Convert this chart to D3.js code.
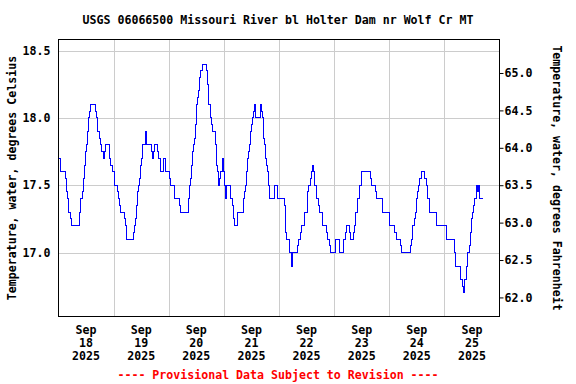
<!DOCTYPE html>
<html>
<head>
<meta charset="utf-8">
<script src="https://cdnjs.cloudflare.com/ajax/libs/d3/7.8.5/d3.min.js"></script>
<style>
    body { margin: 0; background: #fff; }
    svg text { font-family: "DejaVu Sans Mono", monospace; font-weight: bold; font-size: 11.6px; fill: #000; }
</style>
</head>
<body>
<svg id="chart" width="576" height="384"></svg>
<script>
// step changes: hours since 2025-09-18 00:00 and water temperature (deg C)
var hours = [0, 1.0, 3.05, 3.5, 3.8, 4.2, 5.35, 5.8, 9.25, 9.7, 10.3, 10.75, 11.2, 11.6, 12.05, 12.5, 12.9, 13.35, 13.8,
    16.0, 16.4, 16.85, 17.7, 18.15, 18.85, 19.45, 20.15, 20.6, 22.35, 22.75, 23.4, 24.5, 25.55, 26.0, 26.4, 26.85,
    28.75, 29.05, 29.75, 32.8, 33.2, 33.65, 34.1, 34.5, 34.95, 35.4, 35.85, 36.25, 36.7, 37.9, 38.45, 40.6, 41.05,
    41.5, 41.9, 42.95, 43.4, 44.3, 45.85, 46.7, 48.35, 48.65, 50.35, 52.7, 53.0, 56.75, 57.15, 57.6, 58.05, 58.45,
    58.9, 59.35, 59.8, 60.2, 60.65, 61.1, 61.5, 61.95, 62.8, 64.55, 65.0, 65.45, 66.3, 66.75, 67.15, 68.5, 68.9,
    69.35, 69.8, 70.2, 70.65, 71.4, 71.7, 72.15, 72.6, 72.85, 73.3, 75.0, 75.65, 76.05, 76.5, 78.05, 80.65, 81.1,
    81.55, 81.95, 82.4, 82.85, 83.3, 83.7, 84.15, 84.6, 85.05, 85.35, 85.75, 87.95, 88.4, 88.8, 89.25, 89.7, 90.1,
    90.55, 91.0, 91.45, 91.85, 93.9, 95.2, 98.25, 98.7, 99.15, 100.45, 101.45, 102.0, 103.9, 104.35, 105.25, 105.8,
    107.1, 108.3, 108.85, 109.7, 110.3, 110.7, 110.95, 111.3, 112.4, 113.3, 113.75, 115.05, 116.55, 117.0, 117.85,
    118.3, 120.75, 122.45, 124.2, 125.1, 125.5, 126.8, 127.25, 128.55, 129.0, 129.45, 130.3, 131.2, 132.05, 136.0,
    136.4, 138.15, 138.6, 141.2, 144.25, 146.4, 147.0, 149.0, 149.45, 153.25, 153.7, 154.25, 155.1, 155.55, 156.0,
    156.45, 156.85, 157.3, 158.2, 159.5, 160.0, 160.8, 161.65, 164.7, 169.05, 172.55, 173.0, 175.15, 176.05, 176.5,
    176.9, 177.8, 178.25, 179.1, 179.55, 180.0, 180.4, 180.85, 181.3, 182.15, 182.6, 183.05, 183.5, 184.9];
var tempC = [17.70, 17.60, 17.55, 17.45, 17.40, 17.30, 17.25, 17.20, 17.30, 17.40, 17.45, 17.55, 17.65, 17.75, 17.80, 17.90, 18.00, 18.05, 18.10,
    18.05, 18.00, 17.90, 17.85, 17.80, 17.75, 17.70, 17.75, 17.80, 17.70, 17.65, 17.60, 17.50, 17.45, 17.40, 17.35, 17.30,
    17.25, 17.20, 17.10, 17.15, 17.20, 17.25, 17.35, 17.45, 17.50, 17.55, 17.65, 17.70, 17.80, 17.90, 17.80, 17.75, 17.70,
    17.75, 17.80, 17.75, 17.70, 17.60, 17.70, 17.60, 17.55, 17.50, 17.40, 17.35, 17.30, 17.40, 17.50, 17.55, 17.65, 17.75,
    17.80, 17.85, 17.95, 18.10, 18.15, 18.20, 18.30, 18.35, 18.40, 18.35, 18.25, 18.10, 18.00, 17.95, 17.90, 17.80, 17.65,
    17.60, 17.50, 17.55, 17.60, 17.70, 17.60, 17.50, 17.45, 17.40, 17.50, 17.40, 17.35, 17.25, 17.20, 17.30, 17.40, 17.45,
    17.50, 17.60, 17.70, 17.75, 17.80, 17.90, 17.95, 18.00, 18.05, 18.10, 18.00, 18.10, 18.05, 18.00, 17.85, 17.80, 17.70,
    17.65, 17.60, 17.50, 17.40, 17.50, 17.40, 17.35, 17.15, 17.10, 17.00, 16.90, 17.00, 17.05, 17.10, 17.15, 17.20,
    17.30, 17.45, 17.50, 17.55, 17.60, 17.65, 17.60, 17.50, 17.40, 17.35, 17.30, 17.20, 17.15, 17.10, 17.05,
    17.00, 17.10, 17.00, 17.10, 17.15, 17.20, 17.15, 17.10, 17.15, 17.20, 17.30, 17.40, 17.50, 17.60, 17.55,
    17.50, 17.45, 17.40, 17.30, 17.20, 17.15, 17.10, 17.05, 17.00, 17.05, 17.10, 17.20, 17.25, 17.30, 17.40,
    17.45, 17.50, 17.55, 17.60, 17.55, 17.50, 17.40, 17.30, 17.20, 17.10, 17.00, 16.90, 16.80, 16.75, 16.70,
    16.80, 16.90, 17.00, 17.05, 17.15, 17.25, 17.30, 17.35, 17.40, 17.50, 17.45, 17.50, 17.40, 17.40];

var dayLabels = ["18", "19", "20", "21", "22", "23", "24", "25"];
var celsiusTicks = [17.0, 17.5, 18.0, 18.5];
var fahrenheitTicks = [62.0, 62.5, 63.0, 63.5, 64.0, 64.5, 65.0];

var svg = d3.select("#chart");
var plotL = 58.5, plotR = 499.5, plotT = 39.5, plotB = 316.5;

var start = Date.UTC(2025, 8, 18);
var hourMs = 3600 * 1000;
var x = d3.scaleUtc()
    .domain([new Date(start), new Date(start + 192 * hourMs)])
    .range([plotL, plotR]);

var cMin = 16.525, cMax = 18.582;
var yC = d3.scaleLinear().domain([cMin, cMax]).range([plotB, plotT]);
var yF = d3.scaleLinear().domain([cMin * 1.8 + 32, cMax * 1.8 + 32]).range([plotB, plotT]);

// grid
var grid = svg.append("g").attr("stroke", "#cccccc").attr("stroke-width", 1);
grid.selectAll(".hg").data(celsiusTicks).enter().append("line")
    .attr("x1", plotL).attr("x2", plotR)
    .attr("y1", function(d) { return Math.round(yC(d)) + 0.5; })
    .attr("y2", function(d) { return Math.round(yC(d)) + 0.5; });
grid.selectAll(".vg").data(d3.range(1, 8)).enter().append("line")
    .attr("y1", plotT).attr("y2", plotB)
    .attr("x1", function(d) { return Math.round(x(new Date(start + d * 24 * hourMs))) + 0.5; })
    .attr("x2", function(d) { return Math.round(x(new Date(start + d * 24 * hourMs))) + 0.5; });

// data line
var pts = hours.map(function(h, i) { return [new Date(start + h * hourMs), tempC[i]]; });
var line = d3.line()
    .x(function(d) { return x(d[0]); })
    .y(function(d) { return yC(d[1]); })
    .curve(d3.curveStepAfter);
svg.append("path")
    .datum(pts)
    .attr("fill", "none")
    .attr("stroke", "#0000ff")
    .attr("stroke-width", 1)
    .attr("shape-rendering", "crispEdges")
    .attr("d", line);

// frame
svg.append("rect")
    .attr("x", plotL).attr("y", plotT)
    .attr("width", plotR - plotL).attr("height", plotB - plotT)
    .attr("fill", "none").attr("stroke", "#000").attr("stroke-width", 1);

// left axis (Celsius)
var axL = svg.append("g")
    .attr("transform", "translate(" + plotL + ",0)")
    .call(d3.axisLeft(yC).tickValues(celsiusTicks).tickSize(0).tickPadding(8).tickFormat(d3.format(".1f")));
axL.select(".domain").remove();

// right axis (Fahrenheit)
var axR = svg.append("g")
    .attr("transform", "translate(" + plotR + ",0)")
    .call(d3.axisRight(yF).tickValues(fahrenheitTicks).tickSize(4).tickPadding(1).tickFormat(d3.format(".1f")));
axR.select(".domain").remove();
axR.selectAll(".tick line").attr("stroke", "#000");

svg.selectAll(".tick text")
    .style("font-family", "'DejaVu Sans Mono', monospace")
    .style("font-weight", "bold")
    .style("font-size", "11.6px")
    .attr("fill", "#000");

// date labels at noon
var dl = svg.append("g").selectAll("text").data(dayLabels).enter().append("text")
    .attr("text-anchor", "middle")
    .attr("transform", function(d, i) {
        return "translate(" + x(new Date(start + (i * 24 + 12) * hourMs)) + ",334)";
    });
dl.append("tspan").attr("x", 0).attr("y", 0).text("Sep");
dl.append("tspan").attr("x", 0).attr("y", 13).text(function(d) { return d; });
dl.append("tspan").attr("x", 0).attr("y", 26).text("2025");

// titles
svg.append("text")
    .attr("x", 278).attr("y", 24)
    .attr("text-anchor", "middle")
    .text("USGS 06066500 Missouri River bl Holter Dam nr Wolf Cr MT");

svg.append("text")
    .attr("transform", "translate(16," + ((plotT + plotB) / 2) + ") rotate(-90)")
    .attr("text-anchor", "middle")
    .text("Temperature, water, degrees Celsius");

svg.append("text")
    .attr("transform", "translate(553," + ((plotT + plotB) / 2) + ") rotate(90)")
    .attr("text-anchor", "middle")
    .text("Temperature, water, degrees Fahrenheit");

svg.append("text")
    .attr("x", 278).attr("y", 379)
    .attr("text-anchor", "middle")
    .style("fill", "#ff0000")
    .text("---- Provisional Data Subject to Revision ----");
</script>
</body>
</html>
